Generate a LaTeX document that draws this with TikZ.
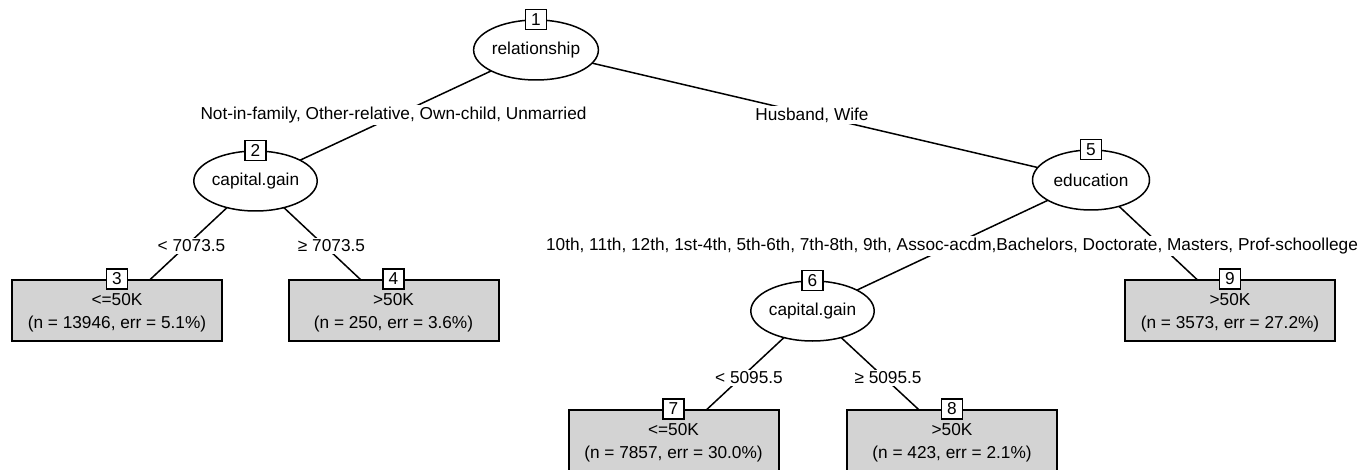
\documentclass[tikz,border=0pt]{standalone}
\usepackage{fontspec}
\setmainfont{Liberation Sans}
\usetikzlibrary{shapes.geometric,backgrounds}
\definecolor{leafgray}{RGB}{211,211,211}
% strut that pushes the first line of a terminal node down a little
\newcommand{\leaftop}{\rule{0pt}{17.5pt}}
\begin{document}
\begin{tikzpicture}[x=1pt,y=-1pt,
  font=\fontsize{17.25}{23}\selectfont,
  splitnode/.style={ellipse, draw, line width=1.5pt, fill=white,
    minimum width=117pt, minimum height=60pt, inner sep=0pt},
  leafnode/.style={rectangle, draw, line width=2pt, fill=leafgray,
    minimum width=210pt, minimum height=61pt, align=center, inner sep=0pt},
  idbox/.style={rectangle, draw, line width=1.3pt, fill=white,
    minimum width=21pt, minimum height=20pt, inner sep=0pt},
  splitlabel/.style={fill=white, inner sep=1.5pt},
  branch/.style={line width=1.5pt}]
\useasboundingbox (0,0) rectangle (1364,470);

% inner (split) nodes
\node[splitnode] (n1) at (536,50)    {relationship};
\node[splitnode] (n2) at (255.5,181) {capital.gain};
\node[splitnode] (n5) at (1091,180)  {education};
\node[splitnode] (n6) at (812.5,311) {capital.gain};

% terminal nodes
\node[leafnode] (n3) at (117,310.5)   {\leaftop<=50K\\(n = 13946, err = 5.1\%)};
\node[leafnode] (n4) at (393.5,310.5) {\leaftop>50K\\(n = 250, err = 3.6\%)};
\node[leafnode] (n9) at (1230,310.5)  {\leaftop>50K\\(n = 3573, err = 27.2\%)};
\node[leafnode] (n7) at (673.5,440.5) {\leaftop<=50K\\(n = 7857, err = 30.0\%)};
\node[leafnode] (n8) at (952,440.5)   {\leaftop>50K\\(n = 423, err = 2.1\%)};

% node ids
\node[idbox] (id1) at (n1.north) {1};
\node[idbox] (id2) at (n2.north) {2};
\node[idbox] (id3) at (n3.north) {3};
\node[idbox] (id4) at (n4.north) {4};
\node[idbox] (id5) at (n5.north) {5};
\node[idbox] (id6) at (n6.north) {6};
\node[idbox] (id7) at (n7.north) {7};
\node[idbox] (id8) at (n8.north) {8};
\node[idbox] (id9) at (n9.north) {9};

% branch labels
\node[splitlabel] (l12) at (393.5,115) {Not-in-family, Other-relative, Own-child, Unmarried};
\node[splitlabel] (l15) at (812,115)   {Husband, Wife};
\node[splitlabel] (l23) at (191.5,246) {< 7073.5};
\node[splitlabel] (l24) at (331.5,246) {≥ 7073.5};
\node[splitlabel] (l56) at (952,246)   {10th, 11th, 12th, 1st-4th, 5th-6th, 7th-8th, 9th, Assoc-acdm,Bachelors, Doctorate, Masters, Prof-schoollege};
\node[splitlabel] (l67) at (749,378)   {< 5095.5};
\node[splitlabel] (l68) at (888,378)   {≥ 5095.5};

% branches, drawn behind the nodes
\begin{pgfonlayer}{background}
\draw[branch] (n1.center) -- (n2.center);
\draw[branch] (n1.center) -- (n5.center);
\draw[branch] (n2.center) -- (n3.center);
\draw[branch] (n2.center) -- (n4.center);
\draw[branch] (n5.center) -- (n6.center);
\draw[branch] (n5.center) -- (n9.center);
\draw[branch] (n6.center) -- (n7.center);
\draw[branch] (n6.center) -- (n8.center);
\end{pgfonlayer}
\end{tikzpicture}
\end{document}
